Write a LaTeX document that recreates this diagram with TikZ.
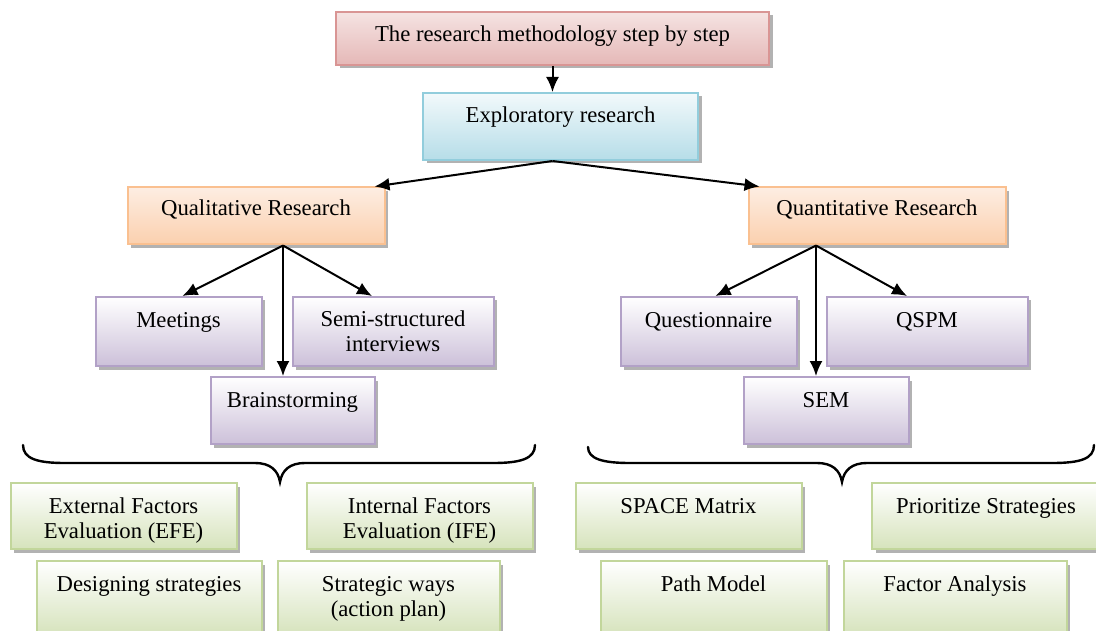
\documentclass[tikz,border=0pt]{standalone}
\usepackage{fontspec}
\setmainfont{Liberation Serif}
\usetikzlibrary{shadows,arrows.meta,calc}
\definecolor{pinkB}{HTML}{D99594}\definecolor{pinkT}{HTML}{F5E3E2}\definecolor{pinkD}{HTML}{E5B8B7}
\definecolor{blueB}{HTML}{92CDDC}\definecolor{blueT}{HTML}{F2F9FB}\definecolor{blueD}{HTML}{B6DDE8}
\definecolor{oraB}{HTML}{FAC090}\definecolor{oraT}{HTML}{FDEDE2}\definecolor{oraD}{HTML}{FBD0AE}
\definecolor{purB}{HTML}{B2A1C7}\definecolor{purT}{HTML}{FFFFFF}\definecolor{purD}{HTML}{CCC0D9}
\definecolor{grnB}{HTML}{C2D69B}\definecolor{grnT}{HTML}{FFFFFF}\definecolor{grnD}{HTML}{D6E3BC}
\tikzset{
  boxbase/.style={draw, line width=2pt, inner sep=0pt, align=center,
    font=\fontsize{22.7}{25}\selectfont,
    drop shadow={shadow xshift=3.5pt, shadow yshift=-3.5pt, opacity=0.55, fill=black!55}},
  bsize/.style n args={3}{minimum width=#1pt, minimum height=#2pt, text height=30pt, text depth=#3pt},
  twoline/.style={text height=55pt, text depth=#1pt},
  pinkbox/.style={boxbase, draw=pinkB, top color=pinkT, bottom color=pinkD},
  bluebox/.style={boxbase, draw=blueB, top color=blueT, bottom color=blueD},
  orabox/.style={boxbase, draw=oraB, top color=oraT, bottom color=oraD},
  purbox/.style={boxbase, draw=purB, top color=purT, bottom color=purD},
  grnbox/.style={boxbase, draw=grnB, top color=grnT, bottom color=grnD},
  arr/.style={line width=2pt, -{Latex[length=15pt,width=13pt]}},
  bracepath/.style={line width=2.4pt, line cap=round}
}
\begin{document}
\begin{tikzpicture}[x=1pt,y=-1pt]
\useasboundingbox (0,0) rectangle (1096,631);
% top
\node[pinkbox, bsize={433}{53}{23}] (top) at (552.5,38.5) {The research methodology step by step};
\node[bluebox, bsize={275}{67}{37}] (expl) at (560.5,126.5) {Exploratory research};
\node[orabox, bsize={257}{57}{27}, text height=28pt, text depth=29pt] (qual) at (256,216) {Qualitative Research};
\node[orabox, bsize={257}{57}{27}, text height=28pt, text depth=29pt] (quant) at (877,216) {Quantitative Research};
% purple
\node[purbox, bsize={166}{69}{39}] (meet) at (178.5,331.5) {Meetings};
\node[purbox, bsize={201}{69}{39}, twoline=14] (semi) at (393,331.5) {Semi-structured\\interviews};
\node[purbox, bsize={164}{67}{37}] (brain) at (292.5,410.5) {Brainstorming};
\node[purbox, bsize={176}{69}{39}] (quest) at (708.5,331.5) {Questionnaire};
\node[purbox, bsize={201}{69}{39}] (qspm) at (927,331.5) {QSPM};
\node[purbox, bsize={165}{67}{37}] (sem) at (826,410.5) {SEM};
% green
\node[grnbox, bsize={226}{66}{36}, twoline=11] (efe) at (123.5,516) {External Factors\\Evaluation (EFE)};
\node[grnbox, bsize={226}{66}{36}, twoline=11] (ife) at (419.5,516) {Internal Factors\\Evaluation (IFE)};
\node[grnbox, bsize={225}{74}{44}] (design) at (149,598) {Designing strategies};
\node[grnbox, bsize={222}{74}{44}, twoline=19] (strat) at (388.5,598) {Strategic ways\\(action plan)};
\node[grnbox, bsize={226}{66}{36}] (space) at (688.5,516) {SPACE Matrix};
\node[grnbox, bsize={228}{66}{36}] (prior) at (986,516) {Prioritize Strategies};
\node[grnbox, bsize={226}{74}{44}] (path) at (713.5,598) {Path Model};
\node[grnbox, bsize={223}{74}{44}] (factor) at (955,598) {Factor Analysis};
% arrows
\coordinate (eo) at (expl.south -| top.south);
\coordinate (qo) at ([xshift=27pt]qual.south);
\coordinate (no) at ([xshift=-61pt]quant.south);
\draw[arr] (top.south) -- (top.south |- expl.north);
\draw[arr] (eo) -- ([xshift=-11pt]qual.north east);
\draw[arr] (eo) -- ([xshift=12pt]quant.north west);
\draw[arr] (qo) -- ([xshift=4pt]meet.north);
\draw[arr] (qo) -- (qo |- brain.north);
\draw[arr] (qo) -- ([xshift=-21pt]semi.north);
\draw[arr] (no) -- ([xshift=7pt]quest.north);
\draw[arr] (no) -- (no |- sem.north);
\draw[arr] (no) -- ([xshift=-20pt]qspm.north);
% braces
\draw[bracepath] (23,445) .. controls (23,459) and (38,463) .. (65,463) -- (255,463)
  .. controls (270,463) and (278,470) .. (280,482)
  .. controls (282,470) and (290,463) .. (305,463) -- (493,463)
  .. controls (520,463) and (535,459) .. (535,445);
\draw[bracepath] (588,447) .. controls (588,459) and (603,463) .. (630,463) -- (817,463)
  .. controls (832,463) and (840,470) .. (842,482)
  .. controls (844,470) and (852,463) .. (867,463) -- (1052,463)
  .. controls (1080,463) and (1094,459) .. (1094,445);
\end{tikzpicture}
\end{document}
